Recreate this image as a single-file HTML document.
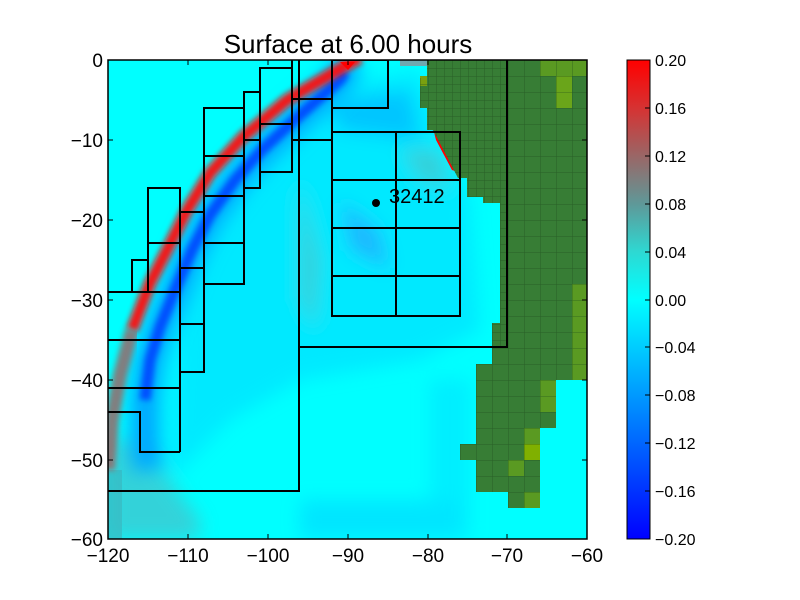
<!DOCTYPE html>
<html><head><meta charset="utf-8"><style>
body{margin:0;background:#fff;}
svg{display:block;font-family:"Liberation Sans","DejaVu Sans",sans-serif;}
</style></head><body>
<svg width="800" height="600" viewBox="0 0 800 600" xmlns="http://www.w3.org/2000/svg">
<defs>
<clipPath id="pc"><rect x="108" y="60" width="479" height="479"/></clipPath>
<filter id="b3" x="-20%" y="-20%" width="140%" height="140%"><feGaussianBlur stdDeviation="3"/></filter>
<filter id="b8" x="-20%" y="-20%" width="140%" height="140%"><feGaussianBlur stdDeviation="9"/></filter>
<pattern id="fine" x="108" y="60" width="8" height="8" patternUnits="userSpaceOnUse"><path d="M0 0H8M0 0V8" stroke="#1f4d1d" stroke-opacity="0.6" stroke-width="1" fill="none"/></pattern>
<pattern id="coarse" x="108" y="60" width="16" height="16" patternUnits="userSpaceOnUse"><path d="M0 0H16M0 0V16" stroke="#1f4d1d" stroke-opacity="0.6" stroke-width="1" fill="none"/></pattern>
<linearGradient id="cb" x1="0" y1="0" x2="0" y2="1">
<stop offset="0" stop-color="#ff0000"/><stop offset="0.1" stop-color="#d63232"/><stop offset="0.2" stop-color="#9a6666"/><stop offset="0.3" stop-color="#5f9898"/><stop offset="0.4" stop-color="#2ed8d2"/><stop offset="0.5" stop-color="#00ffff"/><stop offset="0.6" stop-color="#00ccff"/><stop offset="0.7" stop-color="#0099ff"/><stop offset="0.8" stop-color="#0066ff"/><stop offset="0.9" stop-color="#0033ff"/><stop offset="1" stop-color="#0000ff"/>
</linearGradient>
</defs>
<text x="348" y="53" font-size="26" text-anchor="middle">Surface at 6.00 hours</text>
<g clip-path="url(#pc)">
<rect x="108" y="60" width="479" height="479" fill="#00ffff"/>
<g filter="url(#b8)" opacity="0.8">
<path d="M180 300 L230 200 L300 110 L360 80 L420 70 L440 130 L470 200 L480 330 L420 360 L300 380 L230 420 L170 480 Z" fill="#00e4ff"/>
<path d="M108 440 L140 440 L200 520 L200 539 L108 539 Z" fill="#40c8d0"/>
<path d="M330 100 L410 90 L420 140 L340 130 Z" fill="#00b8ff"/>
<path d="M340 200 L380 230 L390 270 L350 250 Z" fill="#20a8ff"/>
<path d="M300 180 L320 260 L315 330 L300 300 Z" fill="#70b0b0" opacity="0.6"/>
<path d="M400 150 L440 150 L450 190 L420 180 Z" fill="#70b0b0" opacity="0.6"/>
<path d="M430 380 L470 380 L470 539 L430 539 Z" fill="#00eaff"/>
<path d="M300 500 L460 500 L460 539 L300 539 Z" fill="#00e0ff"/>
</g>
<rect x="108" y="470" width="14" height="69" fill="#3ab8c0" opacity="0.7"/>
<rect x="400" y="60" width="27" height="6" fill="#70a8b0"/>
<polyline points="350,60 340,80 300,115 262,150 235,180 210,215 192,250 175,290 160,327 150,360 145,400 145,440 148,470" fill="none" stroke="#00a8ff" stroke-width="30" stroke-linejoin="round" filter="url(#b8)"/>
<polyline points="345,72 340,80 300,115 262,150 235,180 210,215 192,250 175,290 160,327 150,360 145,400" fill="none" stroke="#0050ff" stroke-width="11" stroke-linejoin="round" filter="url(#b3)"/>
<polyline points="145,400 145,440" fill="none" stroke="#2070ff" stroke-width="11" filter="url(#b3)" opacity="0.7"/>
<polyline points="360,58 343,67 287,100 243,137 210,173 187,210 167,250 150,283 132,330" fill="none" stroke="#ff0c0c" stroke-width="12" stroke-linejoin="round" filter="url(#b3)" opacity="0.95"/>
<polyline points="132,330 120,375 112,420 108,470" fill="none" stroke="#a06060" stroke-width="14" stroke-linejoin="round" filter="url(#b3)" opacity="0.8"/>
<path d="M340 62 L355 62 L348 70 Z" fill="#f00"/>
<path d="M433 128 L440 135 L458 172 L452 170 L436 140 Z" fill="#f00"/>
<path d="M430 128 L438 128 L440 136 Z" fill="#00f"/>
<path d="M427 60 L587 60 L587 380 L556 380 L556 428 L540 428 L540 508 L508 508 L508 492 L476 492 L476 460 L460 460 L460 444 L476 444 L476 364 L492 364 L492 323 L500 323 L500 203 L483 203 L483 197 L467 197 L467 178 L458 178 L433 130 L427 130 L427 108 L420 108 L420 78 L427 78 Z" fill="#377d35"/>
<g fill="#5a9a22">
<rect x="540" y="60" width="47" height="16"/><rect x="572" y="284" width="15" height="96"/><rect x="540" y="380" width="16" height="32"/><rect x="508" y="460" width="16" height="16"/><rect x="524" y="492" width="16" height="16"/><rect x="524" y="428" width="16" height="16"/>
</g>
<rect x="556" y="76" width="16" height="32" fill="#6aa51a"/>
<rect x="524" y="444" width="16" height="16" fill="#80b000"/>
<rect x="420" y="76" width="7" height="10" fill="#7aa010"/>
<path d="M427 60 L508 60 L508 348 L492 348 L492 323 L500 323 L500 203 L483 203 L483 197 L467 197 L467 178 L458 178 L433 130 L427 130 L427 108 L420 108 L420 78 L427 78 Z" fill="url(#fine)"/>
<path d="M508 60 L587 60 L587 380 L556 380 L556 428 L540 428 L540 508 L508 508 L508 492 L476 492 L476 460 L460 460 L460 444 L476 444 L476 364 L492 364 L492 348 L508 348 Z" fill="url(#coarse)"/>
<g fill="none" stroke="#000" stroke-width="2">
<rect x="332" y="60" width="56" height="48"/>
<path d="M299 60V491H108M299 347H507V60"/>
<path d="M292 60V140M292 99H332M292 140H332M332 60V140"/>
<rect x="260" y="68" width="32" height="104"/><path d="M260 124H292"/>
<rect x="244" y="92" width="16" height="96"/><path d="M244 140H260"/>
<rect x="204" y="108" width="40" height="176"/><path d="M204 156H244M204 196H244M204 243H244"/>
<rect x="180" y="212" width="24" height="160"/><path d="M180 268H204M180 324H204"/>
<rect x="148" y="188" width="32" height="104"/><path d="M148 243H180"/>
<rect x="132" y="260" width="16" height="32"/>
<path d="M108 292H180V452M108 340H180M108 388H180M108 412H140V452H180"/>
<rect x="332" y="132" width="128" height="184"/>
<path d="M396 132V316M332 180H460M332 228H460M332 276H460"/>
</g>
<circle cx="376" cy="203" r="4" fill="#000"/>
<text x="389" y="203" font-size="20">32412</text>
</g>
<rect x="108" y="60" width="479" height="479" fill="none" stroke="#000" stroke-width="1.5"/>
<g stroke="#000" stroke-width="1">
<path d="M188 539v-5M268 539v-5M348 539v-5M428 539v-5M507 539v-5M188 60v5M268 60v5M348 60v5M428 60v5M507 60v5"/>
<path d="M108 140h5M108 220h5M108 300h5M108 380h5M108 460h5M587 140h-5M587 220h-5M587 300h-5M587 380h-5M587 460h-5"/>
</g>
<g font-size="19" text-anchor="middle">
<text x="108" y="562">−120</text><text x="188" y="562">−110</text><text x="268" y="562">−100</text><text x="348" y="562">−90</text><text x="428" y="562">−80</text><text x="507" y="562">−70</text><text x="587" y="562">−60</text>
</g>
<g font-size="19" text-anchor="end">
<text x="103" y="67">0</text><text x="103" y="147">−10</text><text x="103" y="227">−20</text><text x="103" y="307">−30</text><text x="103" y="387">−40</text><text x="103" y="467">−50</text><text x="103" y="546">−60</text>
</g>
<rect x="627" y="60" width="23" height="479" fill="url(#cb)" stroke="#000" stroke-width="1"/>
<g stroke="#000"><path d="M650 108h-5M650 156h-5M650 204h-5M650 252h-5M650 300h-5M650 347h-5M650 395h-5M650 443h-5M650 491h-5"/></g>
<g font-size="16">
<text x="655" y="66">0.20</text><text x="655" y="114">0.16</text><text x="655" y="162">0.12</text><text x="655" y="210">0.08</text><text x="655" y="258">0.04</text><text x="655" y="306">0.00</text><text x="655" y="353">−0.04</text><text x="655" y="401">−0.08</text><text x="655" y="449">−0.12</text><text x="655" y="497">−0.16</text><text x="655" y="545">−0.20</text>
</g>
</svg>
</body></html>
